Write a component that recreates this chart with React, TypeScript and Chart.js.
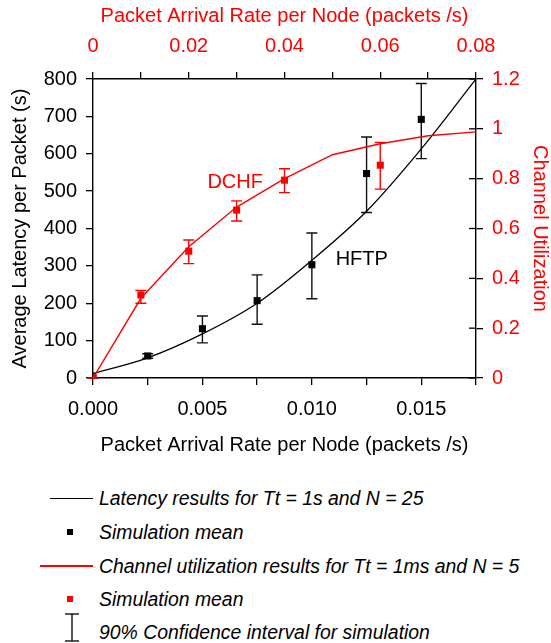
import React, { useEffect, useRef } from "react";
import { Chart, registerables } from "chart.js";

Chart.register(...registerables);

const FONT = '"Liberation Sans", Arial, Helvetica, sans-serif';
const RED = "#ff0000";
const BLACK = "#000000";

// Analytical latency curve (bottom x axis / left y axis)
const latencyCurveX = [0, 0.0025, 0.005, 0.0075, 0.01, 0.0125, 0.015, 0.0175];
const latencyCurveY = [12, 54, 118, 200, 315, 446, 613, 800];

// Latency simulation means and 90% CI
const latencySimX = [0, 0.0025, 0.005, 0.0075, 0.01, 0.0125, 0.015];
const latencySimY = [0, 59, 132, 207, 303, 547, 692];
const latencyLow = [0, 53, 94, 144, 212, 443, 587];
const latencyHigh = [0, 65, 166, 276, 388, 645, 788];

// Channel utilization curve (top x axis / right y axis)
const utilCurveX = [0, 0.01, 0.02, 0.03, 0.04, 0.05, 0.06, 0.07, 0.08];
const utilCurveY = [0, 0.32, 0.527, 0.686, 0.8, 0.896, 0.94, 0.972, 0.988];

// Utilization simulation means and 90% CI
const utilSimX = [0, 0.01, 0.02, 0.03, 0.04, 0.06];
const utilSimY = [0, 0.333, 0.509, 0.674, 0.794, 0.854];
const utilLow = [0, 0.3, 0.459, 0.63, 0.744, 0.758];
const utilHigh = [0, 0.351, 0.554, 0.711, 0.84, 0.945];

// Text labels inside the plot (data coordinates)
const dchfLabel = { text: "DCHF", x: 0.0297, y: 0.783 };
const hftpLabel = { text: "HFTP", x: 0.01228, y: 316 };

const xTitle = "Packet Arrival Rate per Node (packets /s)";
const yTitle = "Average Latency per Packet (s)";
const y2Title = "Channel Utilization";

const legendRows = [
  "Latency results for Tt = 1s and N = 25",
  "Simulation mean",
  "Channel utilization results for Tt = 1ms and N = 5",
  "Simulation mean",
  "90% Confidence interval for simulation",
];

const toPts = (xs: number[], ys: number[]) => xs.map((x, i) => ({ x, y: ys[i] }));

export default function App() {
  const ref = useRef<HTMLCanvasElement>(null);

  useEffect(() => {
    const errorBars = {
      id: "errorBars",
      beforeDatasetsDraw(chart: any) {
        const ctx = chart.ctx;
        const draw = (xs: number[], lo: number[], hi: number[], sx: any, sy: any, color: string) => {
          ctx.save();
          ctx.strokeStyle = color;
          ctx.lineWidth = 1.4;
          xs.forEach((xv, i) => {
            const px = sx.getPixelForValue(xv);
            const pl = sy.getPixelForValue(lo[i]);
            const ph = sy.getPixelForValue(hi[i]);
            const hw = 5.5;
            ctx.beginPath();
            ctx.moveTo(px, pl);
            ctx.lineTo(px, ph);
            ctx.moveTo(px - hw, pl);
            ctx.lineTo(px + hw, pl);
            ctx.moveTo(px - hw, ph);
            ctx.lineTo(px + hw, ph);
            ctx.stroke();
          });
          ctx.restore();
        };
        draw(latencySimX, latencyLow, latencyHigh, chart.scales.x, chart.scales.y, "#111");
        draw(utilSimX, utilLow, utilHigh, chart.scales.x2, chart.scales.y2, RED);
      },
      afterDraw(chart: any) {
        const ctx = chart.ctx;
        const ca = chart.chartArea;
        const s2 = chart.scales.y2;
        ctx.save();
        ctx.strokeStyle = BLACK;
        ctx.lineWidth = 1.3;
        s2.ticks.forEach((t: any) => {
          const py = s2.getPixelForValue(t.value);
          ctx.beginPath();
          ctx.moveTo(ca.right - 7, py);
          ctx.lineTo(ca.right, py);
          ctx.stroke();
        });
        ctx.font = `20px ${FONT}`;
        ctx.textAlign = "center";
        ctx.textBaseline = "middle";
        ctx.fillStyle = RED;
        ctx.fillText(dchfLabel.text, chart.scales.x2.getPixelForValue(dchfLabel.x), chart.scales.y2.getPixelForValue(dchfLabel.y));
        ctx.fillStyle = BLACK;
        ctx.fillText(hftpLabel.text, chart.scales.x.getPixelForValue(hftpLabel.x), chart.scales.y.getPixelForValue(hftpLabel.y));
        ctx.restore();
      },
    };

    const tickFont = { family: FONT, size: 20 };
    const grid = { drawOnChartArea: false, tickLength: 7, color: BLACK, lineWidth: 1.3 };
    const border = { color: BLACK, width: 1.4 };

    const chart = new Chart(ref.current as HTMLCanvasElement, {
      type: "scatter",
      data: {
        datasets: [
          {
            label: "util sim",
            data: toPts(utilSimX, utilSimY),
            xAxisID: "x2",
            yAxisID: "y2",
            pointStyle: "rect",
            pointRadius: 5,
            pointBorderWidth: 0,
            backgroundColor: RED,
            borderColor: RED,
            showLine: false,
          },
          {
            label: "latency sim",
            data: toPts(latencySimX, latencySimY),
            xAxisID: "x",
            yAxisID: "y",
            pointStyle: "rect",
            pointRadius: 5,
            pointBorderWidth: 0,
            backgroundColor: BLACK,
            borderColor: BLACK,
            showLine: false,
          },
          {
            label: "util",
            data: toPts(utilCurveX, utilCurveY),
            xAxisID: "x2",
            yAxisID: "y2",
            showLine: true,
            borderColor: RED,
            borderWidth: 1.4,
            pointRadius: 0,
            tension: 0,
          },
          {
            label: "latency",
            data: toPts(latencyCurveX, latencyCurveY),
            xAxisID: "x",
            yAxisID: "y",
            showLine: true,
            borderColor: BLACK,
            borderWidth: 1.3,
            pointRadius: 0,
            cubicInterpolationMode: "monotone",
          },
        ],
      },
      plugins: [errorBars],
      options: {
        responsive: false,
        animation: false,
        layout: { padding: 0 },
        plugins: { legend: { display: false }, tooltip: { enabled: false } },
        scales: {
          x: {
            type: "linear",
            axis: "x",
            position: "bottom",
            min: 0,
            max: 0.0175,
            afterFit: (s: any) => { s.height = 82; },
            ticks: {
              stepSize: 0.0025,
              autoSkip: false,
              maxRotation: 0,
              padding: 12,
              color: BLACK,
              font: tickFont,
              callback: (v: any, i: number) => (i % 2 === 0 ? Number(v).toFixed(3) : ""),
            },
            grid,
            border,
            title: { display: true, text: xTitle, color: BLACK, font: tickFont, padding: { top: 0, bottom: 3 } },
          },
          x2: {
            type: "linear",
            axis: "x",
            position: "top",
            min: 0,
            max: 0.08,
            afterFit: (s: any) => { s.height = 79; },
            ticks: {
              stepSize: 0.01,
              autoSkip: false,
              maxRotation: 0,
              padding: 13.5,
              color: RED,
              font: tickFont,
              callback: (v: any, i: number) => (i % 2 === 0 ? (Number(v) === 0 ? "0" : Number(v).toFixed(2)) : ""),
            },
            grid,
            border,
            title: { display: true, text: xTitle, color: RED, font: tickFont, padding: { top: 4, bottom: 0 } },
          },
          y: {
            type: "linear",
            axis: "y",
            position: "left",
            min: 0,
            max: 800,
            afterFit: (s: any) => { s.width = 93; },
            ticks: { stepSize: 100, padding: 9, color: BLACK, font: tickFont },
            grid,
            border,
            title: { display: true, text: yTitle, color: BLACK, font: tickFont, padding: { top: 8, bottom: 0 } },
          },
          y2: {
            type: "linear",
            axis: "y",
            position: "right",
            min: 0,
            max: 1.2,
            afterFit: (s: any) => { s.width = 75; },
            ticks: {
              stepSize: 0.2,
              padding: 9,
              color: RED,
              font: tickFont,
              callback: (v: any) => String(parseFloat(Number(v).toFixed(1))),
            },
            grid,
            border,
            title: { display: true, text: y2Title, color: RED, font: tickFont, padding: { top: -1, bottom: 0 } },
          },
        },
      } as any,
    });
    return () => chart.destroy();
  }, []);

  const textStyle = (cy: number): React.CSSProperties => ({
    position: "absolute",
    left: 99,
    top: cy - 12,
    height: 24,
    lineHeight: "24px",
    fontFamily: FONT,
    fontStyle: "italic",
    fontSize: 19.4,
    color: BLACK,
    whiteSpace: "nowrap",
  });
  const rowY = [498, 532, 566, 599, 632];

  return (
    <div style={{ position: "absolute", left: 0, top: 0, width: 551, height: 643, overflow: "hidden", background: "#fff" }}>
      <canvas ref={ref} width={551} height={460} style={{ position: "absolute", left: 0, top: 0, width: 551, height: 460 }} />
      <div style={{ position: "absolute", left: 50, top: rowY[0] - 0.5, width: 43, height: 1.2, background: BLACK }} />
      <div style={{ position: "absolute", left: 67, top: rowY[1] - 3, width: 6, height: 6, background: BLACK }} />
      <div style={{ position: "absolute", left: 40, top: rowY[2] - 0.7, width: 53, height: 1.5, background: RED }} />
      <div style={{ position: "absolute", left: 67, top: rowY[3] - 3, width: 6, height: 6, background: RED }} />
      <svg style={{ position: "absolute", left: 63, top: 612, width: 18, height: 31 }} width={18} height={31}>
        <line x1={9} y1={2} x2={9} y2={29} stroke="#111" strokeWidth={1.4} />
        <line x1={2} y1={2} x2={16} y2={2} stroke="#111" strokeWidth={1.4} />
        <line x1={2} y1={29} x2={16} y2={29} stroke="#111" strokeWidth={1.4} />
      </svg>
      {legendRows.map((t, i) => (
        <div key={i} style={textStyle(rowY[i])}>{t}</div>
      ))}
    </div>
  );
}
